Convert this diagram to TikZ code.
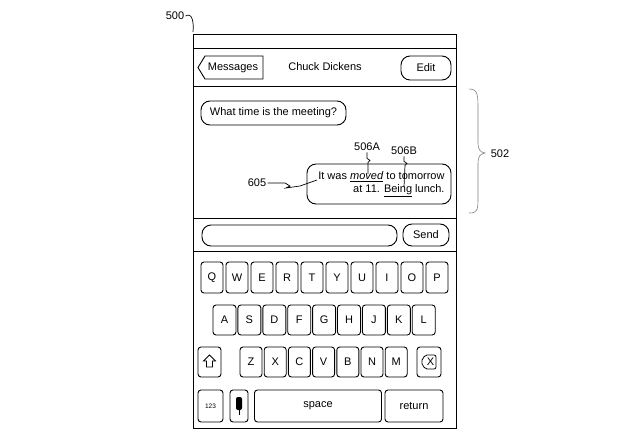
\documentclass[tikz,border=0pt]{standalone}
\usepackage{fontspec}
\setmainfont{Liberation Sans}
\begin{document}
\begin{tikzpicture}[x=1pt,y=-1pt,line width=0.9pt,
  keybox/.style={draw,rounded corners=3pt,inner sep=0pt,font=\fontsize{11}{13}\selectfont},
  lbl/.style={font=\fontsize{11}{13}\selectfont,inner sep=1pt},
  bub/.style={draw,rounded corners=8pt,inner sep=0pt,font=\fontsize{11}{13}\selectfont}]
\useasboundingbox (0,0) rectangle (640,439);
% frame
\draw (193,34) rectangle (456,428);
\draw (193,48) -- (456,48);
\draw (193,86) -- (456,86);
\draw (193,218) -- (456,218);
\draw (193,251) -- (456,251);
% nav
\draw (205,56) -- (263,56) -- (263,79) -- (205,79) -- (198,67.5) -- cycle;
\node[lbl] (msg) at (233,67.5) {Messages};
\node[lbl] (name) at (325,67) {Chuck Dickens};
\node[bub,minimum width=50pt,minimum height=24pt,rounded corners=9pt] (edit) at (426,68) {Edit};
% bubbles
\node[bub,minimum width=145pt,minimum height=24pt,rounded corners=9pt] (b1) at (273.5,113) {What time is the meeting?};
\node[bub,minimum width=144pt,minimum height=40pt,rounded corners=9pt] (b2) at (379,184) {};
\node[lbl,anchor=east] (t2a) at (446,177) {It was \underline{\textit{moved}} to tomorrow};
\node[lbl,anchor=east] (t2b) at (446,191) {at 11. \underline{Being} lunch.};
% labels
\node[lbl] (l506a) at (367,147) {506A};
\node[lbl] (l506b) at (404,151) {506B};
\coordinate (p506a) at (368,174);
\coordinate (p506b) at (404,187);
\draw[line width=0.7pt] (l506a.south) -- ++(0,6) -- ++(3,2) -- ++(-2,2) -- (p506a);
\draw[line width=0.7pt] (l506b.south) -- ++(0,5) -- ++(3,2) -- ++(-2,2) -- (p506b);
\node[lbl] (l605) at (257,183) {605};
\coordinate (p605) at (317,180);
\draw[line width=0.7pt] (l605.east) -- (285,183) -- (290,186) -- (286,188) -- (300,186) -- (p605);
\draw[line width=0.6pt,gray] (469,89) .. controls (478,89) and (478,95) .. (478,110) -- (478,142) .. controls (478,150) and (480,152) .. (485,153) .. controls (480,154) and (478,156) .. (478,164) -- (478,196) .. controls (478,210) and (478,213) .. (469,213);
\node[lbl] (l502) at (500,154) {502};
\node[lbl] (l500) at (175,16) {500};
\coordinate (p500) at (193,32);
\draw[line width=0.7pt] (l500.east) .. controls (192,12) and (194,22) .. (p500);
% input
\node[bub,minimum width=195pt,minimum height=21pt,rounded corners=9pt] (field) at (299.5,235.5) {};
\node[bub,minimum width=46pt,minimum height=22pt,rounded corners=9pt] (send) at (426,235) {Send};
% keys
\foreach \k [count=\i from 0] in {Q,W,E,R,T,Y,U,I,O,P}
  \node[keybox,minimum width=22pt,minimum height=31pt] (k\k) at (212+25*\i,277.5) {\k};
\foreach \k [count=\i from 0] in {A,S,D,F,G,H,J,K,L}
  \node[keybox,minimum width=23pt,minimum height=30pt] (k\k) at (224.5+24.9*\i,320) {\k};
\foreach \k [count=\i from 0] in {Z,X,C,V,B,N,M}
  \node[keybox,minimum width=22pt,minimum height=30pt] (k\k) at (251+24.2*\i,362) {\k};
\node[keybox,minimum width=23pt,minimum height=30pt] (shift) at (209.5,362) {};
\draw[line width=0.8pt] (shift.center) ++(0,-7) -- ++(6,6) -- ++(-3,0) -- ++(0,6) -- ++(-6,0) -- ++(0,-6) -- ++(-3,0) -- cycle;
\node[keybox,minimum width=24pt,minimum height=30pt] (del) at (429,362) {};
\draw[line width=0.8pt,rounded corners=2pt] (del.center) ++(-8,0) -- ++(4,-7) -- ++(11,0) -- ++(0,14) -- ++(-11,0) -- cycle;
\node[font=\fontsize{11}{13}\selectfont,inner sep=0pt] (delx) at ([xshift=1.5pt]del.center) {X};
% row4
\node[keybox,minimum width=25pt,minimum height=32pt,font=\fontsize{6.5}{7}\selectfont] (num) at (210.5,406) {123};
\node[keybox,minimum width=18pt,minimum height=32pt] (mic) at (239,406) {};
\fill[rounded corners=2pt] (236,397) rectangle (242,410);
\draw[line width=0.8pt] (239,410) -- (239,415);
\node[keybox,minimum width=127pt,minimum height=32pt] (space) at (318,406) {space};
\node[keybox,minimum width=58pt,minimum height=32pt] (ret) at (414,406) {return};
\end{tikzpicture}
\end{document}
